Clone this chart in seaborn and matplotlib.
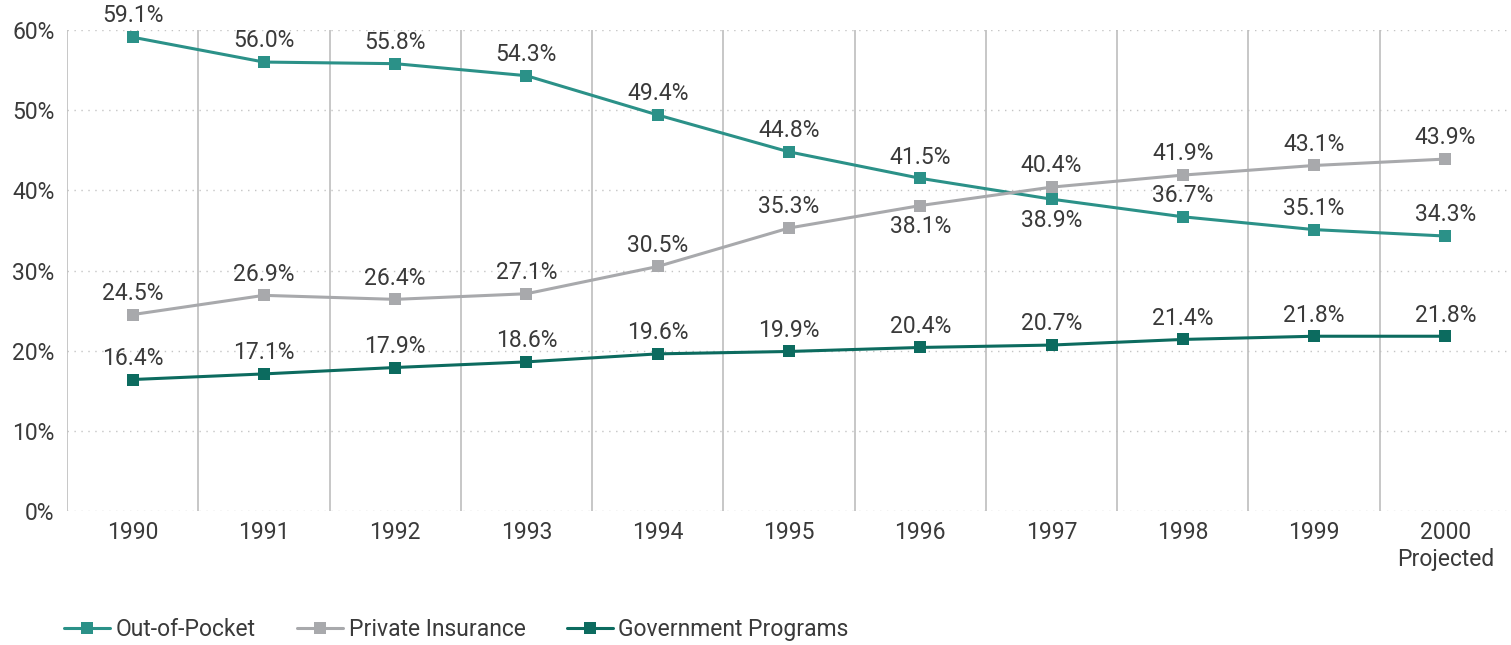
import matplotlib
matplotlib.use("Agg")
import matplotlib.pyplot as plt
import seaborn as sns

# Data
years = ["1990", "1991", "1992", "1993", "1994", "1995", "1996", "1997", "1998", "1999", "2000\nProjected"]
out_of_pocket = [59.1, 56.0, 55.8, 54.3, 49.4, 44.8, 41.5, 38.9, 36.7, 35.1, 34.3]
private_insurance = [24.5, 26.9, 26.4, 27.1, 30.5, 35.3, 38.1, 40.4, 41.9, 43.1, 43.9]
government = [16.4, 17.1, 17.9, 18.6, 19.6, 19.9, 20.4, 20.7, 21.4, 21.8, 21.8]
y_ticks = [0, 10, 20, 30, 40, 50, 60]

# labels drawn below the marker instead of above
below_oop = [7]
below_private = [6]

sns.set_style("white")
plt.rcParams["font.family"] = ["Roboto", "DejaVu Sans"]
text_color = "#3a3a3a"

fig = plt.figure(figsize=(15.11, 6.45), dpi=100)
ax = fig.add_axes([67 / 1511, 134 / 645, 1444 / 1511, 481 / 645])

pos = list(range(len(years)))
series = [
    ("Out-of-Pocket", out_of_pocket, "#2b9188", below_oop),
    ("Private Insurance", private_insurance, "#a8a9ac", below_private),
    ("Government Programs", government, "#0c6b5f", []),
]

for name, vals, col, below in series:
    sns.lineplot(x=pos, y=vals, ax=ax, color=col, marker="s", markersize=8,
                 markeredgewidth=0, linewidth=2.2, label=name)
    for i, v in enumerate(vals):
        if i in below:
            ax.annotate(f"{v:.1f}%", (i, v), xytext=(0, -7), textcoords="offset points",
                        ha="center", va="top", fontsize=16.5, color=text_color)
        else:
            ax.annotate(f"{v:.1f}%", (i, v), xytext=(0, 7), textcoords="offset points",
                        ha="center", va="bottom", fontsize=16.5, color=text_color,
                        annotation_clip=False)

ax.set_xlim(-0.5, 10.5)
ax.set_ylim(0, 60)
ax.set_yticks(y_ticks)
ax.set_yticklabels([f"{t}%" for t in y_ticks])
ax.set_xticks(pos)
ax.set_xticklabels(years, linespacing=1.25)
ax.tick_params(axis="both", length=0, labelsize=16.5, labelcolor=text_color)
ax.tick_params(axis="y", pad=9)
ax.tick_params(axis="x", pad=7)

for t in y_ticks:
    ax.axhline(t, color="#c4c4c4", linewidth=1, linestyle=(0, (1, 4)), zorder=0)
for b in range(-1, 10):
    ax.axvline(b + 0.5, color="#bdbdbd", linewidth=1.2, zorder=0)

sns.despine(ax=ax, left=True, bottom=True)

ax.get_legend().remove()
handles, labels = ax.get_legend_handles_labels()
fig.legend(handles, labels, loc="center left", bbox_to_anchor=(0.032, 0.024), ncol=3,
           frameon=False, fontsize=16.5, handlelength=2.0, columnspacing=1.8,
           handletextpad=0.25, labelcolor=text_color, borderpad=0.2)

fig.savefig("out.png", dpi=100)
